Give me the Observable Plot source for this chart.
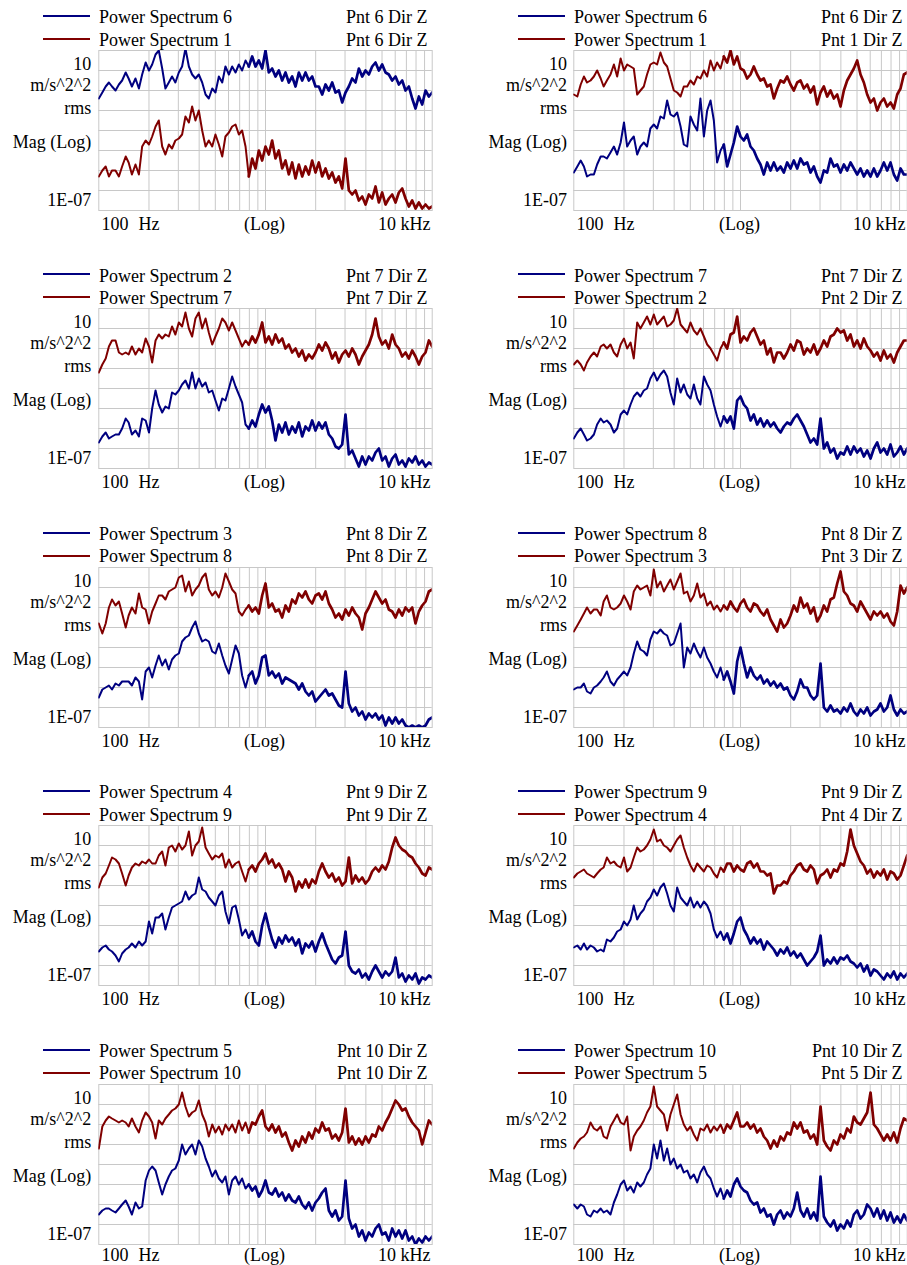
<!DOCTYPE html>
<html>
<head>
<meta charset="utf-8">
<script src="https://cdn.jsdelivr.net/npm/d3@7"></script>
<script src="https://cdn.jsdelivr.net/npm/@observablehq/plot@0.6"></script>
<style>
  html, body { margin: 0; padding: 0; background: #fff; overflow: hidden; }
  #page { position: relative; width: 907px; height: 1265px; overflow: hidden; font-family: "Liberation Serif", "Times New Roman", serif; color: #000; }
  .panel { position: absolute; width: 450px; height: 250px; }
  .sw { position: absolute; left: 43px; width: 47px; height: 2px; }
  .lg { position: absolute; left: 99px; font-size: 18px; line-height: 18px; white-space: nowrap; }
  .lg.rt { left: auto; right: 22.5px; }
  .panel svg { position: absolute; left: 0; top: 40px; }
</style>
</head>
<body>
<div id="page"></div>
<script>
// Analysis frequencies (Hz), log-spaced bins from 100 Hz to 10 kHz
const freqHz = [
  100,105,110,115,120,126,132,138,145,151,158,166,174,182,191,200,209,219,229,240,
  251,263,275,288,302,316,331,347,363,380,398,417,437,457,479,501,525,550,575,603,
  631,661,692,724,759,794,832,871,912,955,1000,1047,1096,1148,1202,1259,1318,1380,1445,1514,
  1585,1660,1738,1820,1905,1995,2089,2188,2291,2399,2512,2630,2754,2884,3020,3162,3311,3467,3631,3802,
  3981,4169,4365,4571,4786,5012,5248,5495,5754,6026,6310,6607,6918,7244,7586,7943,8318,8710,9120,9550,
  10000
];

// Spectrum magnitudes, log10 of m/s^2^2 rms, one value per analysis frequency.
// Row 1, left panel
const L1_blue = [
  -1.4,-1.1,-0.8,-0.6,-0.8,-1.0,-0.7,-0.5,-0.1,-0.4,
  -0.8,-0.4,-0.9,-0.2,0.4,0.0,0.3,0.8,1.0,0.1,
  -0.9,-0.6,-0.3,-0.6,-0.1,0.2,1.1,0.2,-0.2,-0.4,
  -0.2,-0.6,-1.2,-1.4,-0.9,-1.1,-0.3,-0.6,0.2,-0.2,
  0.2,-0.1,0.3,0.0,0.5,0.2,0.7,0.2,0.5,0.1,
  1.0,-0.1,0.1,-0.3,0.0,-0.5,-0.1,-0.6,-0.3,-0.8,
  -0.1,-0.5,-0.1,-0.5,-0.3,-0.8,-0.8,-1.2,-0.7,-1.0,
  -0.6,-1.1,-1.0,-1.6,-1.1,-0.8,-0.4,-0.6,0.1,-0.3,
  0.0,-0.2,0.2,0.4,0.0,0.3,-0.1,-0.2,-0.5,-0.3,
  -0.7,-0.5,-1.0,-0.8,-1.4,-1.9,-1.3,-1.7,-1.0,-1.3,
  -1.1
];
const L1_red = [
  -5.3,-5.0,-4.8,-5.3,-5.0,-5.0,-5.3,-4.8,-4.3,-4.6,
  -5.2,-4.7,-5.2,-3.8,-3.5,-3.7,-3.3,-2.8,-2.5,-3.8,
  -4.2,-3.7,-3.9,-3.5,-3.4,-3.2,-2.3,-2.6,-1.8,-2.5,
  -2.0,-3.0,-3.8,-3.5,-3.8,-3.2,-3.7,-4.3,-3.3,-3.1,
  -2.8,-2.7,-3.2,-3.0,-3.8,-5.3,-4.4,-4.9,-4.0,-4.5,
  -3.8,-4.2,-3.5,-4.4,-4.0,-4.9,-4.5,-5.2,-4.6,-5.4,
  -4.7,-5.3,-4.8,-5.2,-4.5,-5.1,-4.6,-5.3,-4.9,-5.4,
  -5.1,-5.6,-5.3,-5.9,-4.4,-6.0,-6.2,-6.0,-6.5,-6.3,
  -6.7,-6.2,-6.4,-5.8,-6.6,-6.1,-6.7,-6.4,-6.2,-6.6,
  -6.1,-5.9,-6.4,-6.8,-6.5,-6.9,-6.6,-6.9,-6.7,-6.9,
  -6.8
];
// Row 1, right panel
const R1_blue = [
  -5.1,-4.8,-4.5,-4.8,-5.3,-5.2,-5.2,-4.7,-4.3,-4.3,
  -4.4,-4.1,-3.8,-4.2,-3.6,-2.6,-3.8,-3.5,-3.3,-4.2,
  -3.8,-3.6,-3.8,-2.9,-2.7,-2.9,-2.3,-2.4,-1.5,-2.2,
  -2.3,-2.1,-2.8,-3.7,-3.8,-2.3,-2.7,-3.0,-1.4,-3.3,
  -2.0,-1.5,-2.5,-4.6,-4.0,-3.7,-4.8,-4.2,-3.6,-2.8,
  -3.3,-3.5,-3.2,-3.8,-4.0,-4.4,-4.7,-5.2,-4.6,-5.0,
  -4.6,-5.0,-4.8,-5.1,-4.6,-4.9,-4.5,-4.9,-4.4,-4.7,
  -4.6,-5.1,-4.8,-5.3,-5.6,-5.0,-5.1,-4.4,-4.8,-4.7,
  -5.1,-4.7,-5.0,-4.6,-4.9,-5.2,-4.9,-5.3,-5.0,-5.3,
  -4.9,-5.3,-5.0,-4.6,-5.0,-4.6,-5.2,-5.5,-4.9,-5.2,
  -5.2
];
const R1_red = [
  -1.2,-1.3,-0.7,-0.3,-0.6,-0.5,-0.3,0.0,-0.4,-0.8,
  -0.5,-0.2,0.3,-0.3,0.6,0.0,0.3,0.2,0.1,-1.2,
  -1.0,-0.8,-0.2,0.3,0.4,0.3,0.9,0.4,0.2,-0.4,
  -1.0,-1.1,-1.3,-0.8,-0.8,-0.5,-0.7,-0.3,-0.4,0.0,
  -0.3,0.5,0.0,0.4,0.1,0.7,0.4,1.0,0.3,0.7,
  0.1,0.0,-0.4,-0.2,0.2,-0.2,-0.5,-0.4,-0.8,-0.7,
  -1.4,-0.9,-0.5,-0.6,-0.3,-0.7,-1.0,-0.6,-0.5,-0.9,
  -0.7,-1.1,-0.8,-1.7,-1.1,-0.8,-1.3,-1.0,-1.4,-1.2,
  -1.8,-1.0,-0.5,-0.2,0.1,0.5,-0.2,-0.6,-1.2,-1.6,
  -1.4,-2.0,-1.6,-1.4,-1.8,-1.6,-1.9,-1.2,-0.9,-0.2,
  -0.1
];
// Row 2, left panel
const L2_blue = [
  -5.7,-5.4,-5.2,-5.5,-5.4,-5.3,-5.3,-5.0,-4.5,-4.7,
  -5.3,-5.1,-5.4,-4.5,-4.6,-5.2,-4.0,-3.1,-3.8,-4.2,
  -3.9,-4.0,-3.2,-3.3,-3.1,-2.8,-2.6,-3.0,-2.2,-3.0,
  -2.5,-2.9,-2.7,-3.2,-3.1,-3.6,-4.1,-3.5,-3.6,-3.0,
  -2.4,-2.9,-3.3,-3.7,-4.8,-5.0,-4.6,-4.9,-4.3,-3.8,
  -4.2,-3.9,-4.6,-5.6,-4.8,-5.2,-4.7,-5.3,-4.9,-5.2,
  -4.7,-5.4,-4.9,-5.1,-4.6,-5.1,-4.7,-5.0,-4.7,-5.3,
  -5.5,-5.9,-6.0,-5.8,-4.3,-6.3,-6.1,-6.5,-6.9,-6.4,
  -6.8,-6.4,-6.6,-6.2,-6.0,-6.6,-6.4,-6.9,-6.5,-6.3,
  -6.8,-6.6,-6.9,-6.5,-6.7,-6.4,-6.8,-6.6,-6.9,-6.7,
  -6.8
];
const L2_red = [
  -2.2,-1.8,-1.5,-0.9,-0.6,-0.6,-1.2,-1.3,-1.2,-1.3,
  -0.9,-1.3,-1.0,-1.2,-0.5,-0.9,-1.7,-0.6,-0.3,-0.5,
  -0.3,-0.4,0.1,-0.3,0.3,0.1,0.8,0.0,-0.4,0.5,
  0.8,0.0,0.5,-0.2,-0.8,-0.4,0.0,0.5,0.3,-0.1,
  0.3,-0.1,-0.5,-0.9,-0.6,-0.8,-0.4,-0.7,-0.3,0.3,
  -0.7,-0.4,-0.8,-0.3,-0.7,-0.5,-1.0,-0.8,-1.2,-1.0,
  -1.4,-1.1,-1.6,-1.3,-1.5,-1.2,-0.8,-1.1,-0.7,-1.0,
  -1.5,-1.2,-1.7,-1.3,-1.1,-1.4,-1.0,-1.3,-1.8,-1.4,
  -1.1,-0.8,-0.3,0.5,-0.4,-0.8,-0.6,-1.0,-0.3,-0.8,
  -1.0,-1.4,-1.2,-1.5,-1.1,-1.4,-1.8,-1.4,-1.2,-0.6,
  -0.9
];
// Row 2, right panel
const R2_blue = [
  -5.5,-5.2,-5.0,-5.3,-5.6,-5.5,-5.3,-4.8,-4.5,-4.7,
  -4.6,-4.8,-5.2,-5.0,-4.3,-4.1,-4.3,-3.8,-3.4,-3.2,
  -3.4,-3.1,-3.0,-2.5,-2.2,-2.6,-2.3,-2.1,-2.4,-3.2,
  -3.8,-2.5,-3.2,-2.8,-3.3,-3.5,-2.8,-3.5,-3.8,-2.4,
  -2.8,-3.1,-3.8,-4.4,-4.9,-4.4,-4.7,-4.4,-5.0,-3.6,
  -3.4,-3.8,-4.0,-4.6,-4.3,-4.8,-4.5,-4.9,-4.6,-4.9,
  -4.7,-5.0,-5.2,-4.9,-4.7,-4.8,-4.5,-4.3,-4.6,-4.9,
  -5.3,-5.7,-5.5,-5.8,-4.5,-6.0,-5.7,-6.2,-6.0,-6.5,
  -6.2,-6.3,-5.9,-6.3,-5.9,-6.2,-6.0,-6.4,-6.1,-6.5,
  -6.0,-5.7,-6.2,-6.0,-6.3,-5.8,-6.4,-6.2,-5.9,-6.3,
  -6.0
];
const R2_red = [
  -1.8,-1.6,-1.8,-2.1,-1.7,-1.4,-1.2,-1.4,-0.9,-0.8,
  -1.0,-0.8,-1.2,-1.4,-0.8,-0.5,-1.0,-0.7,-1.5,0.3,
  0.0,0.3,0.6,0.2,0.7,0.2,0.4,0.6,0.1,0.2,
  0.4,1.0,0.2,0.0,-0.2,0.3,-0.1,-0.3,0.0,-0.4,
  -0.8,-1.0,-1.3,-1.6,-1.0,-0.7,-1.0,-0.3,-0.2,0.6,
  -0.7,-0.4,-0.6,-0.2,0.0,-0.4,-0.8,-0.6,-1.3,-1.0,
  -1.7,-1.2,-1.2,-1.5,-1.2,-0.8,-1.1,-0.6,-0.7,-1.3,
  -1.0,-1.2,-0.8,-1.3,-1.0,-0.6,-0.9,-0.4,-0.3,0.0,
  -0.2,-0.1,-0.6,-0.3,-0.9,-0.6,-1.0,-0.5,-0.9,-1.1,
  -1.4,-1.2,-1.6,-1.1,-1.5,-1.3,-1.7,-1.2,-0.9,-0.6,
  -0.6
];
// Row 3, left panel
const L3_blue = [
  -5.5,-5.1,-5.0,-4.9,-5.1,-4.8,-4.9,-4.7,-4.7,-4.7,
  -4.9,-4.5,-4.7,-5.6,-4.2,-4.0,-4.5,-3.9,-3.4,-3.9,
  -3.6,-4.1,-3.6,-3.4,-3.3,-2.7,-2.5,-2.4,-2.0,-1.7,
  -2.3,-2.7,-2.6,-2.7,-3.2,-3.3,-2.8,-3.4,-3.9,-4.3,
  -3.6,-2.9,-3.3,-4.4,-5.0,-4.4,-4.2,-4.8,-4.4,-3.5,
  -3.4,-4.4,-4.2,-4.5,-4.3,-4.8,-4.5,-4.6,-4.7,-4.8,
  -5.1,-4.8,-5.2,-5.4,-5.2,-5.7,-5.5,-5.3,-5.1,-5.4,
  -5.3,-5.6,-5.9,-6.0,-4.2,-5.8,-6.2,-6.0,-6.4,-6.2,
  -6.6,-6.3,-6.5,-6.3,-6.6,-6.4,-6.9,-6.5,-6.8,-6.5,
  -6.8,-6.6,-6.9,-7.0,-6.9,-7.0,-6.9,-7.0,-6.9,-6.6,
  -6.5
];
const L3_red = [
  -1.8,-2.3,-1.8,-1.0,-0.6,-0.9,-0.7,-1.3,-2.0,-1.4,
  -1.0,-1.3,-0.3,-1.0,-1.1,-1.8,-1.2,-0.8,-0.4,-0.4,
  -0.6,-0.2,-0.1,0.0,0.5,0.6,-0.2,0.3,-0.4,-0.1,
  0.1,0.5,0.7,-0.1,-0.4,-0.2,-0.5,0.0,0.7,0.3,
  -0.1,-0.3,-1.2,-1.4,-1.1,-0.9,-1.2,-1.0,-1.3,-0.4,
  0.2,-1.0,-0.8,-1.2,-1.1,-1.5,-0.9,-1.2,-0.6,-0.8,
  -0.3,-0.5,-0.2,-0.6,-0.8,-0.4,-0.3,-0.6,-0.2,-0.8,
  -1.1,-1.5,-1.3,-1.6,-1.1,-1.4,-1.0,-1.3,-1.5,-2.1,
  -1.3,-1.0,-0.6,-0.2,-0.5,-0.8,-0.6,-1.1,-1.2,-1.5,
  -1.1,-1.4,-1.0,-1.2,-1.0,-1.8,-1.2,-0.9,-0.7,-0.2,
  -0.1
];
// Row 3, right panel
const R3_blue = [
  -5.1,-5.0,-5.0,-4.8,-5.2,-5.3,-5.0,-4.9,-4.7,-4.5,
  -4.2,-4.7,-4.9,-4.6,-4.4,-4.2,-4.4,-4.0,-3.3,-2.7,
  -3.1,-3.2,-3.4,-2.6,-2.2,-2.3,-2.1,-2.3,-2.4,-2.9,
  -2.8,-2.3,-1.8,-4.0,-3.0,-3.3,-2.8,-3.2,-3.5,-3.0,
  -3.5,-3.8,-4.2,-4.5,-4.0,-4.6,-4.2,-4.7,-5.3,-3.7,
  -3.0,-3.8,-4.5,-4.0,-4.4,-4.6,-4.4,-4.8,-4.6,-4.9,
  -4.7,-5.0,-4.8,-5.1,-5.0,-5.4,-5.6,-5.2,-4.6,-5.0,
  -5.0,-5.4,-5.6,-5.4,-3.8,-6.0,-6.2,-5.9,-6.2,-6.1,
  -6.3,-6.0,-6.2,-5.8,-6.2,-6.4,-6.1,-6.3,-6.0,-6.4,
  -6.2,-6.1,-5.8,-6.2,-6.0,-5.4,-6.1,-6.4,-6.1,-6.3,
  -6.2
];
const R3_red = [
  -2.2,-1.9,-1.6,-1.3,-1.0,-1.3,-1.1,-1.1,-1.4,-0.7,
  -0.4,-1.0,-1.1,-1.0,-0.8,-0.4,-0.7,-1.1,-0.2,0.1,
  -0.1,0.0,0.1,-0.4,0.9,0.0,0.3,-0.2,0.1,0.4,
  -0.1,0.3,0.7,-0.3,-0.2,-0.7,-0.4,0.2,-0.5,-0.3,
  -0.9,-0.7,-1.1,-0.9,-1.2,-0.9,-1.1,-0.7,-1.0,-1.2,
  -0.8,-0.6,-1.0,-1.2,-0.8,-0.9,-1.2,-1.4,-1.1,-1.6,
  -1.9,-2.2,-1.6,-2.0,-1.8,-1.4,-0.9,-1.2,-0.5,-1.0,
  -0.8,-1.3,-1.0,-1.7,-1.4,-0.9,-1.2,-0.6,-0.5,0.2,
  0.8,-0.2,-0.4,-0.8,-0.9,-1.2,-0.7,-1.0,-1.3,-1.6,
  -1.2,-1.4,-1.2,-1.5,-1.3,-1.7,-1.9,-1.2,0.1,-0.3,
  0.0
];
// Row 4, left panel
const L4_blue = [
  -5.3,-5.1,-5.0,-5.2,-5.3,-5.5,-5.8,-5.4,-5.2,-5.1,
  -4.9,-5.1,-4.8,-5.0,-4.8,-3.8,-4.4,-3.6,-3.6,-3.4,
  -4.2,-3.6,-3.1,-3.0,-2.9,-2.8,-2.3,-2.7,-2.5,-2.4,
  -1.6,-2.2,-2.3,-2.6,-2.8,-3.0,-2.5,-2.3,-3.3,-3.9,
  -3.1,-3.0,-3.7,-4.5,-4.2,-4.6,-4.3,-4.8,-5.0,-4.0,
  -3.4,-4.1,-4.7,-5.1,-4.6,-4.9,-4.5,-4.8,-4.6,-5.0,
  -4.7,-5.4,-4.9,-5.1,-4.8,-5.3,-4.8,-4.4,-4.9,-5.3,
  -5.7,-5.9,-5.6,-5.5,-4.3,-6.0,-6.3,-6.4,-6.2,-6.6,
  -6.4,-6.7,-6.3,-6.0,-6.3,-6.6,-6.3,-6.5,-6.3,-5.6,
  -6.6,-6.4,-6.8,-6.5,-6.7,-6.4,-6.9,-6.6,-6.7,-6.5,
  -6.6
];
const L4_red = [
  -2.1,-1.6,-1.4,-1.0,-0.6,-0.7,-0.9,-1.4,-2.0,-1.5,
  -1.1,-0.9,-1.0,-0.8,-0.9,-0.7,-0.9,-0.9,-0.5,-0.3,
  -1.0,-0.1,0.0,-0.3,0.1,-0.2,0.0,0.7,-0.5,0.0,
  0.2,0.9,-0.1,-0.4,-0.7,-0.5,-0.6,-0.4,-1.1,-0.7,
  -1.1,-0.9,-0.8,-1.3,-1.8,-1.2,-1.0,-1.3,-0.9,-0.7,
  -0.4,-0.9,-0.7,-1.1,-0.9,-1.2,-1.8,-1.3,-1.6,-2.3,
  -1.8,-2.1,-1.7,-2.1,-1.7,-1.9,-1.3,-0.9,-1.3,-1.6,
  -1.4,-1.8,-1.6,-2.0,-1.8,-0.6,-1.9,-1.5,-1.8,-1.6,
  -1.9,-1.7,-1.3,-1.1,-1.3,-1.0,-1.2,-0.8,-0.1,0.4,
  0.0,-0.2,-0.3,-0.5,-0.6,-0.9,-1.1,-1.4,-1.5,-1.1,
  -1.2
];
// Row 4, right panel
const R4_blue = [
  -5.1,-5.0,-5.2,-4.9,-5.2,-5.0,-5.1,-5.3,-5.2,-5.3,
  -4.7,-4.8,-4.6,-4.3,-4.2,-3.8,-4.0,-3.7,-3.0,-3.7,
  -3.4,-3.2,-2.8,-2.6,-2.2,-2.5,-2.1,-1.9,-2.4,-3.0,
  -3.3,-2.1,-2.6,-2.8,-3.0,-2.6,-3.1,-2.8,-3.1,-2.8,
  -3.0,-3.4,-4.2,-4.6,-4.3,-4.7,-4.4,-4.9,-4.4,-3.8,
  -3.6,-4.2,-4.5,-4.9,-4.6,-4.9,-4.7,-5.2,-4.8,-5.0,
  -5.2,-5.5,-5.2,-5.4,-5.1,-5.5,-5.3,-5.6,-5.4,-5.7,
  -6.0,-5.8,-5.6,-5.3,-4.5,-6.0,-5.7,-5.9,-5.6,-5.9,
  -5.6,-5.7,-5.5,-5.8,-5.9,-6.1,-5.9,-6.3,-6.0,-6.5,
  -6.2,-6.3,-6.5,-6.7,-6.4,-6.6,-6.3,-6.7,-6.4,-6.6,
  -6.4
];
const R4_red = [
  -1.6,-1.4,-1.3,-1.2,-1.4,-1.5,-1.6,-1.4,-1.2,-1.1,
  -0.6,-0.9,-0.8,-1.0,-1.1,-0.6,-1.3,-1.1,-0.6,-0.1,
  -0.3,-0.2,0.0,0.3,0.8,0.2,0.3,0.0,-0.1,-0.3,
  0.0,0.3,0.5,-0.1,-0.6,-1.0,-1.3,-0.9,-1.1,-1.3,
  -1.0,-1.1,-1.4,-1.6,-1.1,-1.3,-0.9,-0.9,-1.3,-1.0,
  -1.2,-1.3,-0.9,-0.8,-1.1,-0.9,-1.3,-1.3,-1.5,-1.4,
  -2.4,-2.0,-2.0,-1.8,-1.9,-1.5,-1.3,-1.0,-0.9,-1.2,
  -1.3,-1.0,-1.2,-1.9,-1.5,-1.4,-1.2,-1.6,-1.2,-1.3,
  -0.9,-1.0,-0.3,0.8,0.0,-0.4,-0.8,-1.0,-1.4,-1.2,
  -1.6,-1.3,-1.5,-1.2,-1.7,-1.3,-1.4,-1.7,-1.5,-1.0,
  -0.5
];
// Row 5, left panel
const L5_blue = [
  -5.5,-5.3,-5.2,-5.2,-5.3,-5.4,-5.2,-5.0,-4.8,-5.1,
  -5.5,-4.9,-5.2,-5.1,-3.8,-3.3,-3.1,-3.3,-3.9,-4.5,
  -4.0,-3.6,-3.3,-3.2,-2.8,-2.0,-2.5,-2.2,-2.0,-2.5,
  -1.8,-2.1,-2.7,-3.1,-3.6,-3.3,-3.7,-3.9,-3.6,-4.5,
  -3.8,-3.6,-4.0,-3.7,-4.2,-4.0,-4.3,-4.1,-4.6,-4.3,
  -3.8,-4.4,-4.5,-4.2,-4.6,-4.4,-4.8,-4.5,-4.8,-4.9,
  -4.6,-5.0,-5.2,-4.9,-5.3,-4.9,-4.7,-4.4,-4.2,-5.3,
  -5.6,-5.3,-5.8,-5.6,-3.8,-5.7,-6.2,-6.0,-6.6,-6.3,
  -6.8,-6.4,-6.6,-6.2,-6.0,-6.5,-6.4,-6.8,-6.2,-6.6,
  -6.3,-6.7,-6.3,-6.8,-6.6,-7.0,-6.7,-6.9,-6.6,-6.8,
  -6.6
];
const L5_red = [
  -2.2,-1.1,-0.8,-0.6,-0.7,-0.8,-0.9,-0.8,-0.9,-1.1,
  -0.7,-1.1,-1.4,-0.8,-0.4,-0.6,-0.9,-1.7,-0.8,-1.0,
  -0.7,-0.5,-0.3,-0.2,0.0,0.6,-0.1,-0.6,-0.4,-0.3,
  0.2,-0.5,-0.9,-1.6,-1.0,-1.4,-1.1,-1.5,-1.0,-1.3,
  -1.0,-1.4,-0.8,-1.3,-0.9,-1.4,-0.9,-1.0,-0.6,-0.3,
  -1.1,-1.3,-1.0,-1.4,-1.1,-1.6,-1.4,-1.9,-2.3,-1.8,
  -2.1,-1.6,-1.9,-1.4,-1.7,-1.2,-1.4,-0.9,-1.3,-1.2,
  -1.7,-1.5,-1.8,-1.4,-0.2,-1.9,-1.6,-2.0,-1.7,-2.0,
  -1.6,-1.9,-1.5,-1.6,-1.1,-1.3,-0.9,-0.6,-0.2,0.2,
  0.0,-0.3,-0.2,-0.6,-0.9,-1.1,-1.3,-2.0,-1.4,-0.8,
  -1.0
];
// Row 5, right panel
const R5_blue = [
  -5.0,-5.2,-5.0,-5.1,-5.5,-5.6,-5.3,-5.4,-5.2,-5.4,
  -5.3,-5.5,-4.9,-4.5,-4.0,-3.8,-4.3,-4.1,-4.4,-3.9,
  -4.1,-3.9,-3.5,-3.2,-2.0,-2.7,-1.8,-2.8,-2.2,-3.0,
  -2.7,-3.2,-3.0,-3.4,-3.3,-3.7,-3.5,-3.9,-3.4,-3.1,
  -3.5,-3.7,-4.2,-4.6,-4.2,-4.7,-4.3,-4.6,-4.0,-3.7,
  -4.1,-4.3,-4.4,-4.8,-5.0,-4.9,-5.4,-5.2,-5.6,-5.5,
  -6.0,-5.5,-5.3,-5.7,-5.4,-5.6,-5.2,-4.4,-5.3,-5.6,
  -5.2,-5.7,-5.4,-5.8,-3.6,-5.6,-5.9,-6.1,-5.8,-6.3,
  -6.0,-6.2,-5.8,-6.1,-5.5,-5.3,-5.7,-5.5,-5.0,-5.2,
  -5.6,-5.2,-5.7,-5.3,-5.8,-5.4,-5.9,-5.6,-5.9,-5.5,
  -5.8
];
const R5_red = [
  -2.2,-1.9,-1.7,-1.6,-1.4,-0.9,-1.2,-1.3,-1.1,-1.6,
  -1.7,-1.1,-0.8,-0.5,-0.9,-1.0,-0.6,-2.3,-1.6,-1.3,
  -1.1,-0.8,-0.4,-0.1,0.9,-0.1,-0.3,-0.5,-1.3,-0.5,
  0.0,0.5,-0.5,-1.0,-1.3,-1.1,-1.5,-1.8,-1.2,-1.3,
  -1.0,-1.4,-1.1,-1.3,-1.0,-1.4,-1.0,-1.2,-0.8,-0.4,
  -1.1,-1.1,-0.9,-1.2,-1.0,-1.4,-1.2,-1.6,-1.8,-2.2,
  -1.8,-2.1,-1.6,-1.8,-1.4,-1.5,-0.9,-1.2,-0.9,-1.4,
  -1.3,-1.7,-1.5,-2.0,-0.1,-1.8,-2.1,-2.3,-1.8,-2.0,
  -1.5,-1.7,-1.2,-1.4,-0.6,-0.9,-1.0,-0.7,-0.4,0.6,
  -1.0,-1.2,-1.5,-1.8,-1.5,-1.8,-1.4,-1.9,-1.2,-0.7,
  -0.8
];

// Legend entries, panels in reading order (row by row, left then right)
const blueNames  = ["Power Spectrum 6","Power Spectrum 6","Power Spectrum 2","Power Spectrum 7","Power Spectrum 3",
                    "Power Spectrum 8","Power Spectrum 4","Power Spectrum 9","Power Spectrum 5","Power Spectrum 10"];
const bluePoints = ["Pnt 6 Dir Z","Pnt 6 Dir Z","Pnt 7 Dir Z","Pnt 7 Dir Z","Pnt 8 Dir Z",
                    "Pnt 8 Dir Z","Pnt 9 Dir Z","Pnt 9 Dir Z","Pnt 10 Dir Z","Pnt 10 Dir Z"];
const redNames   = ["Power Spectrum 1","Power Spectrum 1","Power Spectrum 7","Power Spectrum 2","Power Spectrum 8",
                    "Power Spectrum 3","Power Spectrum 9","Power Spectrum 4","Power Spectrum 10","Power Spectrum 5"];
const redPoints  = ["Pnt 6 Dir Z","Pnt 1 Dir Z","Pnt 7 Dir Z","Pnt 2 Dir Z","Pnt 8 Dir Z",
                    "Pnt 3 Dir Z","Pnt 9 Dir Z","Pnt 4 Dir Z","Pnt 10 Dir Z","Pnt 5 Dir Z"];
const blueSeries = [L1_blue, R1_blue, L2_blue, R2_blue, L3_blue, R3_blue, L4_blue, R4_blue, L5_blue, R5_blue];
const redSeries  = [L1_red,  R1_red,  L2_red,  R2_red,  L3_red,  R3_red,  L4_red,  R4_red,  L5_red,  R5_red];

// Axis annotation
const xGridHz = [200,300,400,500,600,700,800,900,1000,2000,3000,4000,5000,6000,7000,8000,9000];
const yGridMag = [1e-6,1e-5,1e-4,1e-3,1e-2,1e-1,1];
const yTopLabel = {mag: 10, label: "10"};
const yBottomLabel = {mag: 1e-7, label: "1E-07"};
const unitLines = ["m/s^2^2", "rms", "Mag (Log)"];
const xStartLabel = {hz: 100, label: "100", unit: "Hz"};
const xMidLabel = {hz: 1000, label: "(Log)"};
const xEndLabel = {hz: 10000, label: "10 kHz"};

const BLUE = "#000080", RED = "#800000", GRID = "#c8c8c8";
// Above ~800 Hz the dense spectral bins merge into a heavier band
const BAND_START = 45;

function rowsOf(values) {
  return freqHz.map((f, i) => ({f, mag: 10 ** values[i]}));
}

function spectrumMarks(values, color) {
  const rows = rowsOf(values);
  return [
    Plot.line(rows.slice(0, BAND_START + 1), {x: "f", y: "mag", stroke: color, strokeWidth: 2, clip: true}),
    Plot.line(rows.slice(BAND_START), {x: "f", y: "mag", stroke: color, strokeWidth: 2.7, clip: true})
  ];
}

function drawPanel(k) {
  const row = Math.floor(k / 2), col = k % 2;
  const frameTop = 50 + 258.4 * row;
  const el = document.createElement("div");
  el.className = "panel";
  el.style.left = (col * 475) + "px";
  el.style.top = (frameTop - 50) + "px";
  el.innerHTML = `
    <div class="sw" style="top:15px;background:${BLUE}"></div>
    <div class="lg" style="top:8.2px">${blueNames[k]}</div>
    <div class="lg rt" style="top:8.2px">${bluePoints[k]}</div>
    <div class="sw" style="top:38px;background:${RED}"></div>
    <div class="lg" style="top:30.6px">${redNames[k]}</div>
    <div class="lg rt" style="top:30.6px">${redPoints[k]}</div>`;

  const labelDx = col === 0 ? -7.6 : -6.8;
  // the last row sits a little tighter against its frequency labels
  const xLabelDy = row === 4 ? 11 : 13.4;
  const txt = {fontSize: 18, lineAnchor: "middle", fill: "#000"};
  const svg = Plot.plot({
    width: 450, height: 194,
    marginLeft: 98.3, marginRight: 18.3, marginTop: 10, marginBottom: 24,
    x: {type: "log", domain: [100, 10000], axis: null},
    y: {type: "log", domain: [1e-7, 10], axis: null},
    style: {fontFamily: '"Liberation Serif", "Times New Roman", serif', fontSize: "18px", color: "#000", background: "transparent", overflow: "visible"},
    marks: [
      Plot.ruleX(xGridHz, {stroke: GRID, strokeWidth: 1}),
      Plot.ruleY(yGridMag, {stroke: GRID, strokeWidth: 1}),
      Plot.frame({stroke: GRID, strokeWidth: 1}),
      ...spectrumMarks(blueSeries[k], BLUE),
      ...spectrumMarks(redSeries[k], RED),
      // left-hand magnitude annotation
      Plot.text([yTopLabel], {y: "mag", text: "label", frameAnchor: "left", textAnchor: "end", dx: labelDx, dy: 13.5, ...txt}),
      Plot.text([yBottomLabel], {y: "mag", text: "label", frameAnchor: "left", textAnchor: "end", dx: labelDx, dy: -10.1, ...txt}),
      ...unitLines.map((s, j) => Plot.text([s], {frameAnchor: "top-left", textAnchor: "end", dx: labelDx, dy: [35.2, 58.2, 91.5][j], ...txt})),
      // frequency annotation under the frame
      Plot.text([xStartLabel], {x: "hz", text: "label", frameAnchor: "bottom", textAnchor: "start", dx: 2.7, dy: xLabelDy, ...txt}),
      Plot.text([xStartLabel], {x: "hz", text: "unit", frameAnchor: "bottom", textAnchor: "start", dx: 39.7, dy: xLabelDy, ...txt}),
      Plot.text([xMidLabel], {x: "hz", text: "label", frameAnchor: "bottom", textAnchor: "middle", dx: -1, dy: xLabelDy, ...txt}),
      Plot.text([xEndLabel], {x: "hz", text: "label", frameAnchor: "bottom", textAnchor: "end", dx: -1.7, dy: xLabelDy, ...txt})
    ]
  });
  el.appendChild(svg);
  document.getElementById("page").appendChild(el);
}

for (let k = 0; k < 10; k++) drawPanel(k);
</script>
</body>
</html>
